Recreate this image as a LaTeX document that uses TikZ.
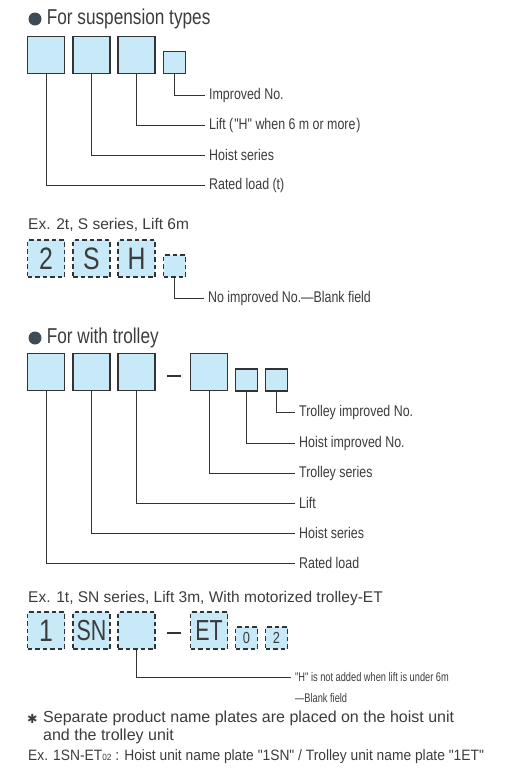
\documentclass[tikz,border=0pt]{standalone}
\usepackage{fontspec}
\setmainfont{Liberation Sans}
\newfontfamily\condfont[FakeStretch=0.8]{Liberation Sans}
\newfontfamily\narrowfont[FakeStretch=0.74]{Liberation Sans}
\newfontfamily\slimfont[FakeStretch=0.92]{Liberation Sans}
\newfontfamily\symfont{DejaVu Sans}
\usetikzlibrary{positioning}
\definecolor{boxblue}{HTML}{C8E9F8}
\definecolor{inkgray}{HTML}{333333}
\definecolor{textgray}{HTML}{3C3C3C}
\definecolor{dotgray}{HTML}{3E4A54}
\tikzstyle{box}=[draw=inkgray, fill=boxblue, line width=1.3, inner sep=0pt, minimum size=37]
\tikzstyle{smallbox}=[box, minimum size=22]
\tikzstyle{dbox}=[box, dash pattern=on 4.5pt off 3pt]
\tikzstyle{dsmallbox}=[smallbox, dash pattern=on 4.5pt off 3pt]
\tikzstyle{bullet}=[circle, fill=dotgray, inner sep=0pt, minimum size=13]
\tikzstyle{head}=[inner sep=0pt, anchor=west, text=textgray, font=\condfont\fontsize{21.5}{24}\selectfont]
\tikzstyle{tag}=[inner xsep=4pt, inner ysep=0pt, anchor=west, text=textgray, font=\condfont\fontsize{15.5}{17}\selectfont]
\tikzstyle{extext}=[inner sep=0pt, anchor=west, text=textgray, font=\fontsize{15.5}{18}\selectfont]
\tikzstyle{bigchar}=[text=textgray, font=\condfont\fontsize{31}{31}\selectfont]
\tikzstyle{lead}=[draw=inkgray, line width=0.9]
\tikzstyle{bar}=[draw=inkgray, line width=2.6]

\begin{document}
\begin{tikzpicture}[x=1pt,y=-1pt]
  \useasboundingbox (0,0) rectangle (518,779);
  % Suspension types
  \node[bullet] (d1) at (35,19) {};
  \node[head, right=5pt of d1] (h1) {For suspension types};
  \node[box] (s1) at (46,55) {};
  \node[box] (s2) at (91.5,55) {};
  \node[box] (s3) at (136.5,55) {};
  \node[smallbox] (s4) at (174.5,62.5) {};
  \node[tag] (r4) at (205,95) {Improved No.};
  \node[tag] (r3) at (205,125) {Lift (\kern1pt"H" when 6 m or more\kern1pt)};
  \node[tag] (r2) at (205,155) {Hoist series};
  \node[tag] (r1) at (205,185) {Rated load (t)};
  \draw[lead] (s4.south) |- (r4.west);
  \draw[lead] (s3.south) |- (r3.west);
  \draw[lead] (s2.south) |- (r2.west);
  \draw[lead] (s1.south) |- (r1.west);

  % Example 2t
  \node[extext] (e1) at (28,225) {Ex. 2t, S series, Lift 6m};
  \node[dbox, bigchar] (x1) at (46,258.5) {2};
  \node[dbox, bigchar] (x2) at (91.5,258.5) {S};
  \node[dbox, bigchar] (x3) at (136.5,258.5) {H};
  \node[dsmallbox] (x4) at (174.5,266) {};
  \node[tag] (q4) at (204,298) {No improved No.—Blank field};
  \draw[lead] (x4.south) |- (q4.west);

  % With trolley
  \node[bullet] (d2) at (35,338) {};
  \node[head, right=5pt of d2] (h2) {For with trolley};
  \node[box] (t1) at (46,372) {};
  \node[box] (t2) at (91.5,372) {};
  \node[box] (t3) at (136.5,372) {};
  \coordinate (m1) at (167,376);
  \coordinate (m2) at (181,376);
  \draw[bar] (m1) -- (m2);
  \node[box] (t4) at (209,372) {};
  \node[smallbox] (t5) at (246.5,380) {};
  \node[smallbox] (t6) at (276.5,380) {};
  \node[tag] (u6) at (295,412) {Trolley improved No.};
  \node[tag] (u5) at (295,443) {Hoist improved No.};
  \node[tag] (u4) at (295,473) {Trolley series};
  \node[tag] (u3) at (295,503) {Lift};
  \node[tag] (u2) at (295,533) {Hoist series};
  \node[tag] (u1) at (295,563) {Rated load};
  \draw[lead] (t6.south) |- (u6.west);
  \draw[lead] (t5.south) |- (u5.west);
  \draw[lead] (t4.south) |- (u4.west);
  \draw[lead] (t3.south) |- (u3.west);
  \draw[lead] (t2.south) |- (u2.west);
  \draw[lead] (t1.south) |- (u1.west);

  % Example 1t
  \node[extext] (e2) at (28,598) {Ex. 1t, SN series, Lift 3m, With motorized trolley-ET};
  \node[dbox, bigchar] (y1) at (46,630.5) {1};
  \node[dbox, bigchar, font=\narrowfont\fontsize{29}{29}\selectfont] (y2) at (91.5,630.5) {SN};
  \node[dbox] (y3) at (136.5,630.5) {};
  \coordinate (n1) at (167,633);
  \coordinate (n2) at (181,633);
  \draw[bar] (n1) -- (n2);
  \node[dbox, bigchar, font=\narrowfont\fontsize{29}{29}\selectfont] (y4) at (209,630.5) {ET};
  \node[dsmallbox, text=textgray, font=\condfont\fontsize{16}{16}\selectfont] (y5) at (246.5,638) {0};
  \node[dsmallbox, text=textgray, font=\condfont\fontsize{16}{16}\selectfont] (y6) at (276.5,638) {2};
  \node[tag, font=\narrowfont\fontsize{12.5}{14}\selectfont] (v3) at (291,677) {"H" is not added when lift is under 6m};
  \node[tag, font=\narrowfont\fontsize{12.5}{14}\selectfont, below=21pt of v3.west, anchor=west] (v4) {—Blank field};
  \draw[lead] (y3.south) |- (v3.west);

  % Note
  \node[extext, font=\symfont\fontsize{12.5}{14}\selectfont] (a1) at (27,718.5) {✱};
  \node[extext, align=left, anchor=north west, font=\fontsize{16}{18}\selectfont] (n3) at (43,710.5) {Separate product name plates are placed on the hoist unit\\and the trolley unit};
  \node[extext, font=\slimfont\fontsize{15}{18}\selectfont] (n4) at (28,757) {Ex. 1SN-ET{\fontsize{9}{9}\selectfont 02} : Hoist unit name plate "1SN" / Trolley unit name plate "1ET"};
\end{tikzpicture}
\end{document}
